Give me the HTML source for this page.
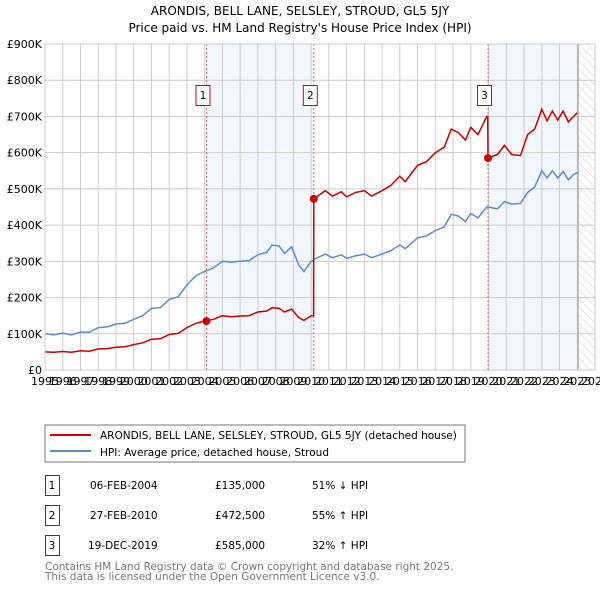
<!DOCTYPE html>
<html><head><meta charset="utf-8"><style>
body{margin:0;background:#fff;font-family:"Liberation Sans","DejaVu Sans",sans-serif}
svg text{font-family:"DejaVu Sans","Liberation Sans",sans-serif}
</style></head><body>
<svg id="c" width="600" height="590" xmlns="http://www.w3.org/2000/svg">
<text x="300" y="15" text-anchor="middle" font-size="12">ARONDIS, BELL LANE, SELSLEY, STROUD, GL5 5JY</text>
<text x="300" y="32" text-anchor="middle" font-size="12">Price paid vs. HM Land Registry's House Price Index (HPI)</text>
<defs><pattern id="h" width="6" height="6" patternUnits="userSpaceOnUse" patternTransform="rotate(-45)"><line x1="0" y1="0" x2="0" y2="6" stroke="#ccc" stroke-width="1"/></pattern></defs>
<g id="plot"></g>
<rect x="45" y="425" width="420" height="37" fill="#fff" stroke="#777"/>
<line x1="50" y1="435" x2="91" y2="435" stroke="#cc0000" stroke-width="2"/>
<text x="100" y="439" font-size="10.5">ARONDIS, BELL LANE, SELSLEY, STROUD, GL5 5JY (detached house)</text>
<line x1="50" y1="451" x2="91" y2="451" stroke="#5b8bd0" stroke-width="2"/>
<text x="100" y="456" font-size="10.5">HPI: Average price, detached house, Stroud</text>
<g font-size="10.5">
<rect x="45.5" y="475.5" width="14" height="20" fill="none" stroke="#cc0000"/><text x="52" y="489" text-anchor="middle">1</text>
<text x="90" y="489">06-FEB-2004</text><text x="215" y="489">£135,000</text><text x="312" y="489">51% ↓ HPI</text>
<rect x="45.5" y="505.5" width="14" height="20" fill="none" stroke="#cc0000"/><text x="52" y="519" text-anchor="middle">2</text>
<text x="90" y="519">27-FEB-2010</text><text x="215" y="519">£472,500</text><text x="312" y="519">55% ↑ HPI</text>
<rect x="45.5" y="535.5" width="14" height="20" fill="none" stroke="#cc0000"/><text x="52" y="549" text-anchor="middle">3</text>
<text x="88" y="549">19-DEC-2019</text><text x="215" y="549">£585,000</text><text x="312" y="549">32% ↑ HPI</text>
</g>
<text x="45" y="570" font-size="10.5" fill="#777">Contains HM Land Registry data © Crown copyright and database right 2025.</text>
<text x="45" y="580" font-size="10.5" fill="#777">This data is licensed under the Open Government Licence v3.0.</text>
</svg>
<script>
const dates=[1995.0,1995.5,1996.0,1996.5,1997.0,1997.5,1998.0,1998.5,1999.0,1999.5,2000.0,2000.5,2001.0,2001.5,2002.0,2002.5,2003.0,2003.5,2004.0,2004.1,2004.5,2005.0,2005.5,2006.0,2006.5,2007.0,2007.5,2007.8,2008.2,2008.5,2008.9,2009.3,2009.6,2010.0,2010.14,2010.15,2010.8,2011.2,2011.7,2012.0,2012.5,2013.0,2013.4,2014.0,2014.5,2015.0,2015.3,2016.0,2016.5,2017.0,2017.5,2017.9,2018.3,2018.7,2019.0,2019.4,2019.9,2019.95,2019.97,2020.5,2020.9,2021.3,2021.8,2022.2,2022.6,2023.0,2023.3,2023.6,2023.9,2024.2,2024.5,2024.8,2025.0];
const hpiValues=[100,97,102,97,105,104,117,119,127,129,140,150,170,172,195,202,235,260,272,274,282,300,298,300,302,318,325,345,342,322,340,290,272,300,303,305,320,310,318,308,315,320,310,320,330,345,335,365,370,385,395,430,425,410,432,420,450,448,450,445,465,458,460,490,505,550,530,550,530,548,525,540,545];
const priceValues=[50,49,51,49,53,52,58,59,63,64,70,75,85,86,98,101,117,129,135,136,140,150,147,149,150,160,163,172,170,160,168,145,137,150,150,472.5,495,480,492,478,490,495,480,495,510,535,520,565,575,600,615,665,655,635,670,650,700,700,585,595,620,595,592,650,665,720,688,715,690,715,685,700,710];
const sales=[[2004.1,135],[2010.15,472.5],[2019.97,585]];
const saleLabels=["1","2","3"];
const yTicks=[0,100,200,300,400,500,600,700,800,900];
const yTickLabels=["£0","£100K","£200K","£300K","£400K","£500K","£600K","£700K","£800K","£900K"];
const years=[1995,1996,1997,1998,1999,2000,2001,2002,2003,2004,2005,2006,2007,2008,2009,2010,2011,2012,2013,2014,2015,2016,2017,2018,2019,2020,2021,2022,2023,2024,2025,2026];
const X0=45,X1=595,Y0=370,Y1=44;
const x=d=>X0+(d-1995)/(2026-1995)*(X1-X0);
const y=v=>Y0-v/900*(Y0-Y1);
const NS="http://www.w3.org/2000/svg";
const g=document.getElementById('plot');
function mk(t,a){const e=document.createElementNS(NS,t);for(const k in a)e.setAttribute(k,a[k]);g.appendChild(e);return e;}
let e;
e=mk('rect',{x:x(sales[0][0]),y:Y1,width:x(sales[1][0])-x(sales[0][0]),height:Y0-Y1,fill:'#f2f6fd'});


e=mk('rect',{x:x(sales[2][0]),y:Y1,width:x(2025.05)-x(sales[2][0]),height:Y0-Y1,fill:'#f2f6fd'});


e=mk('rect',{x:x(2025.05),y:Y1,width:X1-x(2025.05),height:Y0-Y1,fill:'url(#h)'});


years.forEach(yr=>{e=mk('line',{x1:x(yr),x2:x(yr),y1:Y1,y2:Y0,stroke:'#ccc'});


const t=mk('text',{x:x(yr),y:Y0+15,'font-size':11,'text-anchor':'middle'});t.textContent=yr;

});
yTicks.forEach((v,i)=>{e=mk('line',{x1:X0,x2:X1,y1:y(v),y2:y(v),stroke:'#ccc'});


const t=mk('text',{x:X0-3,y:y(v)+4,'font-size':11,'text-anchor':'end'});t.textContent=yTickLabels[i];

});
e=mk('line',{x1:x(2025.05),x2:x(2025.05),y1:Y1,y2:Y0,stroke:'#999'});


sales.forEach((s,i)=>{e=mk('line',{x1:x(s[0]),x2:x(s[0]),y1:Y1,y2:Y0,stroke:'#f06060','stroke-dasharray':'2,2'});

});
e=mk('path',{d:dates.map((d,i)=>(i?'L':'M')+x(d).toFixed(1)+','+y(hpiValues[i]).toFixed(1)).join(''),fill:'none',stroke:'#5b8bd0','stroke-width':1.5});


e=mk('path',{d:dates.map((d,i)=>(i?'L':'M')+x(d).toFixed(1)+','+y(priceValues[i]).toFixed(1)).join(''),fill:'none',stroke:'#cc0000','stroke-width':1.5});


sales.forEach((s,i)=>{e=mk('circle',{cx:x(s[0]),cy:y(s[1]),r:4,fill:'#cc0000'});


const bx=x(s[0])-10.5;
const r=mk('rect',{x:bx,y:85.5,width:14,height:20,fill:'#fff',stroke:'#cc0000'});


const t=mk('text',{x:bx+7,y:99,'font-size':10.5,'text-anchor':'middle'});t.textContent=saleLabels[i];

});
e=mk('rect',{x:X0,y:Y1,width:X1-X0,height:Y0-Y1,fill:'none',stroke:'#ccc'});


</script>
</body></html>
